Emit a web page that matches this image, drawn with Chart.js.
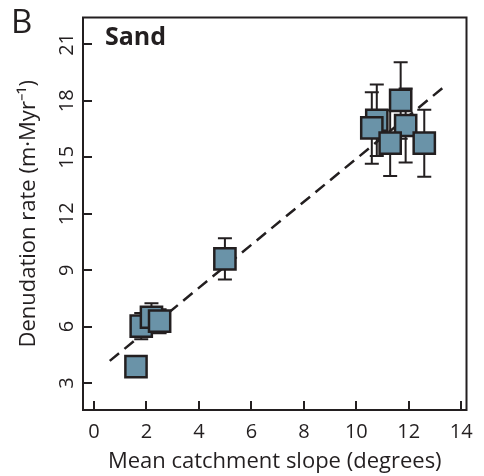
<!DOCTYPE html>
<html>
<head>
<title>Sand: denudation rate vs catchment slope</title>
<script src="https://cdn.jsdelivr.net/npm/chart.js"></script>
<style>
  body { margin: 0; background: #fff; }
  #wrap { width: 484px; height: 476px; }
</style>
</head>
<body>
<div id="wrap"><canvas id="slopeChart" width="484" height="476"></canvas></div>
<script>
// values (slope in degrees, rate in m/Myr, +/- error)
const slope   = [1.80, 2.19, 2.50, 1.60, 4.99, 10.78, 11.69, 10.59, 11.88, 11.29, 12.59];
const rate    = [6.03, 6.50, 6.29, 3.88, 9.60, 16.97, 18.02, 16.56, 16.69, 15.75, 15.75];
const rateErr = [0.70, 0.74, 0.64, 0.40, 1.10, 1.90, 2.03, 1.90, 1.97, 1.75, 1.78];

// dashed regression line end points
const fitX = [0.6, 13.4];
const fitY = [4.18, 18.81];

const xTicks = [0, 2, 4, 6, 8, 10, 12, 14];
const yTicks = [3, 6, 9, 12, 15, 18, 21];

const ink = '#231f20';
const boxFill = '#6a93a8';
const fontFam = "'Open Sans', sans-serif";

// error bars go under the squares, frame + rotated y labels on top
const decor = {
  id: 'decor',
  beforeDatasetsDraw(chart) {
    const { ctx, scales: { x, y } } = chart;
    ctx.save();
    ctx.strokeStyle = ink;
    ctx.lineWidth = 2;
    slope.forEach((s, i) => {
      const px = x.getPixelForValue(s);
      const top = y.getPixelForValue(rate[i] + rateErr[i]);
      const bot = y.getPixelForValue(rate[i] - rateErr[i]);
      ctx.beginPath();
      ctx.moveTo(px, top); ctx.lineTo(px, bot);
      ctx.moveTo(px - 7, top); ctx.lineTo(px + 7, top);
      ctx.moveTo(px - 7, bot); ctx.lineTo(px + 7, bot);
      ctx.stroke();
    });
    ctx.restore();
  },
  afterDraw(chart) {
    const { ctx, chartArea: a, scales: { x, y } } = chart;
    ctx.save();
    ctx.strokeStyle = ink;
    ctx.lineWidth = 2;
    ctx.strokeRect(a.left, a.top, a.right - a.left, a.bottom - a.top);

    // inward tick marks
    ctx.beginPath();
    xTicks.forEach(v => {
      const px = Math.round(x.getPixelForValue(v));
      ctx.moveTo(px, a.bottom); ctx.lineTo(px, a.bottom - 9);
    });
    yTicks.forEach(v => {
      const py = Math.round(y.getPixelForValue(v));
      ctx.moveTo(a.left, py); ctx.lineTo(a.left + 9, py);
    });
    ctx.stroke();

    // y tick labels, rotated like the original
    ctx.fillStyle = ink;
    ctx.font = '20px ' + fontFam;
    ctx.textAlign = 'center';
    ctx.textBaseline = 'middle';
    yTicks.forEach(v => {
      const py = y.getPixelForValue(v);
      ctx.save();
      ctx.translate(67, py);
      ctx.rotate(-Math.PI / 2);
      ctx.fillText(String(v), 0, 0);
      ctx.restore();
    });

    // panel letter and label
    ctx.textAlign = 'left';
    ctx.textBaseline = 'alphabetic';
    ctx.font = '33px ' + fontFam;
    ctx.fillText('B', 11, 33);
    ctx.font = 'bold 25px ' + fontFam;
    ctx.fillText('Sand', 105, 45);
    ctx.restore();
  }
};

new Chart(document.getElementById('slopeChart'), {
  type: 'scatter',
  data: {
    datasets: [
      {
        label: 'Sand',
        data: slope.map((s, i) => ({ x: s, y: rate[i] })),
        pointStyle: 'rect',
        pointRadius: 15,
        backgroundColor: boxFill,
        borderColor: ink,
        borderWidth: 2.5,
        order: 0
      },
      {
        type: 'line',
        label: 'fit',
        data: fitX.map((v, i) => ({ x: v, y: fitY[i] })),
        borderColor: ink,
        borderWidth: 2.5,
        borderDash: [12, 7],
        pointRadius: 0,
        fill: false,
        order: 1
      }
    ]
  },
  options: {
    responsive: false,
    animation: false,
    events: [],
    layout: { padding: { top: 13, right: 5, left: 0, bottom: 0 } },
    plugins: { legend: { display: false }, tooltip: { enabled: false } },
    scales: {
      x: {
        type: 'linear',
        min: -0.42,
        max: 14.2,
        afterBuildTicks: s => { s.ticks = xTicks.map(v => ({ value: v })); },
        afterFit: s => { s.height = 66; },
        grid: { display: false },
        border: { display: false },
        ticks: { color: ink, font: { family: fontFam, size: 20 }, padding: 2, maxRotation: 0 },
        title: {
          display: true,
          text: 'Mean catchment slope (degrees)',
          color: ink,
          font: { family: fontFam, size: 22 },
          padding: { top: 0, bottom: 1 }
        }
      },
      y: {
        type: 'linear',
        min: 1.57,
        max: 22.43,
        afterFit: s => { s.width = 83; },
        grid: { display: false },
        border: { display: false },
        ticks: { display: false },
        title: {
          display: true,
          text: 'Denudation rate (m·Myr⁻¹)',
          color: ink,
          font: { family: fontFam, size: 22 },
          padding: { top: 16, bottom: 0 }
        }
      }
    }
  },
  plugins: [decor]
});
</script>
</body>
</html>
